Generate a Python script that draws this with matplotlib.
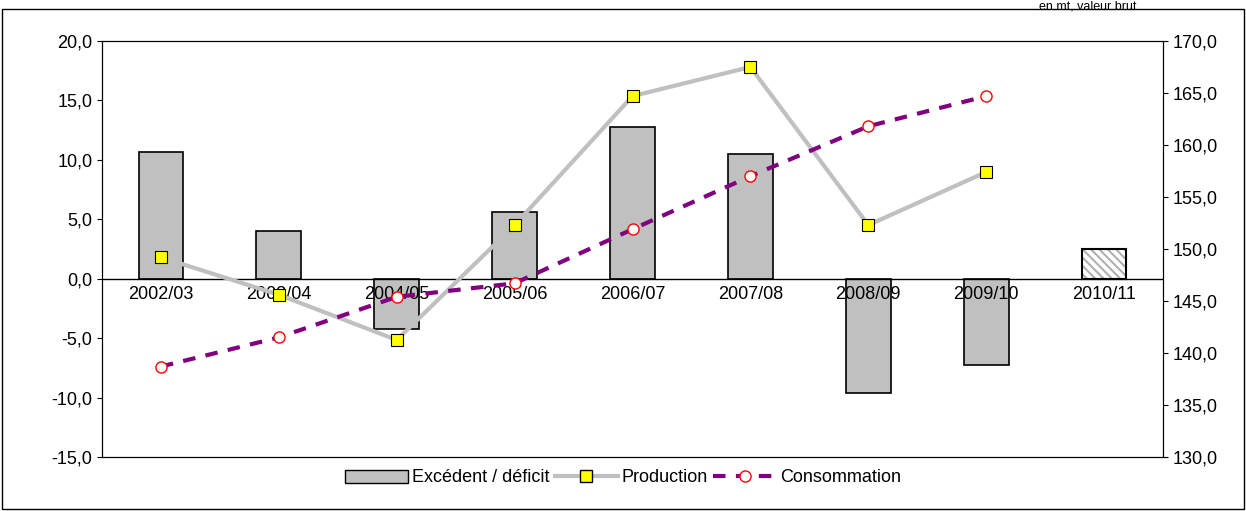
import numpy as np
import matplotlib.pyplot as plt
from matplotlib.patches import Rectangle

years = ['2002/03', '2003/04', '2004/05', '2005/06', '2006/07', '2007/08', '2008/09', '2009/10', '2010/11']
excedent = [10.7, 4.0, -4.2, 5.6, 12.8, 10.5, -9.6, -7.3, 2.5]
production = [149.2, 145.6, 141.25, 152.3, 164.7, 167.5, 152.3, 157.4]
consommation = [138.7, 141.5, 145.4, 146.7, 151.9, 157.0, 161.8, 164.7]

plt.rcParams['font.family'] = ['Liberation Sans', 'DejaVu Sans']
plt.rcParams['hatch.linewidth'] = 1.5
fig = plt.figure(figsize=(12.46, 5.11), dpi=100)
fig.add_artist(Rectangle((0.002, 0.003), 0.996, 0.98, transform=fig.transFigure,
                         fill=False, lw=1, ec='black'))
fig.text(0.912, 0.999, 'en mt, valeur brut', ha='right', va='top', fontsize=9)

ax = fig.add_axes([102/1246, 1-457/511, (1163-102)/1246, 416/511])
x = np.arange(len(years))
ax.bar(x[:8], excedent[:8], width=0.38, color='#c0c0c0', edgecolor='black', lw=1.2)
# hatched forecast bar: grey hatch, black outline on top
ax.bar(x[8:], excedent[8:], width=0.38, color='white', edgecolor='#b0b0b0', lw=0, hatch='\\\\\\\\')
ax.bar(x[8:], excedent[8:], width=0.38, fill=False, edgecolor='black', lw=1.5)
ax.set_ylim(-15, 20)
ax.set_yticks(np.arange(-15, 20.1, 5))
ax.set_yticklabels([f'{v:.1f}'.replace('.', ',') for v in np.arange(-15, 20.1, 5)], fontsize=13)
ax.set_xlim(-0.5, 8.5)
ax.set_xticks([])
ax.axhline(0, color='black', lw=1)
for i, y in enumerate(years):
    ax.text(i, -0.6, y, ha='center', va='top', fontsize=13)

ax2 = ax.twinx()
ax2.plot(x[:8], production, color='#c0c0c0', lw=3, marker='s', ms=8,
         mfc='yellow', mec='black', mew=0.8)
ax2.plot(x[:8], consommation, color='#800080', lw=3, ls=(0, (3, 2.5)), marker='o', ms=8,
         mfc='white', mec='red', mew=1)
ax2.set_ylim(130, 170)
ax2.set_yticks(np.arange(130, 170.1, 5))
ax2.set_yticklabels([f'{v:.1f}'.replace('.', ',') for v in np.arange(130, 170.1, 5)], fontsize=13)
ax.set_zorder(1)
ax.patch.set_visible(False)
ax2.set_zorder(2)

h1 = Rectangle((0, 0), 1, 1, fc='#c0c0c0', ec='black')
h2, = ax2.plot([], [], color='#c0c0c0', lw=3, marker='s', ms=8, mfc='yellow', mec='black')
h3, = ax2.plot([], [], color='#800080', lw=3, ls=(0, (3, 2.5)), marker='o', ms=8, mfc='white', mec='red')
fig.legend([h1, h2, h3], ['Excédent / déficit', 'Production', 'Consommation'],
           loc='center', bbox_to_anchor=(0.5, 1-478/511), ncol=3, frameon=False,
           fontsize=13, handlelength=3.5, columnspacing=0.3, handletextpad=0.2)
fig.savefig('out.png')
